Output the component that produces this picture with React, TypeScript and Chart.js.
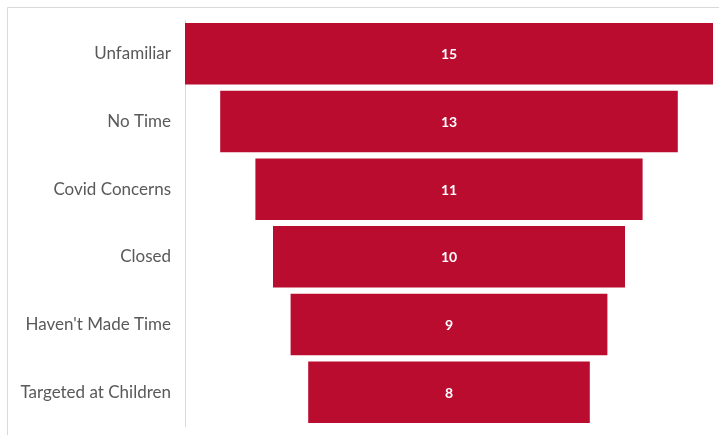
import React, { useEffect, useRef } from "react";
import { Chart, registerables } from "chart.js";

Chart.register(...registerables);

const categories = ["Unfamiliar", "No Time", "Covid Concerns", "Closed", "Haven't Made Time", "Targeted at Children"];
const values = [15, 13, 11, 10, 9, 8];

const barColor = "rgb(186,12,47)";

const framePlugin = {
  id: "frame",
  beforeDraw(chart: any) {
    const ctx = chart.ctx;
    ctx.save();
    ctx.fillStyle = "#ffffff";
    ctx.fillRect(0, 0, chart.width, chart.height);
    ctx.strokeStyle = "#d9d9d9";
    ctx.lineWidth = 1;
    ctx.beginPath();
    ctx.moveTo(7.5, chart.height);
    ctx.lineTo(7.5, 7.5);
    ctx.lineTo(chart.width, 7.5);
    ctx.stroke();
    ctx.restore();
  },
};

const labelPlugin = {
  id: "centerLabels",
  afterDatasetsDraw(chart: any) {
    const ctx = chart.ctx;
    const meta = chart.getDatasetMeta(0);
    ctx.save();
    ctx.fillStyle = "#ffffff";
    ctx.font = "bold 14px Lato";
    ctx.textAlign = "center";
    ctx.textBaseline = "middle";
    meta.data.forEach((bar: any, i: number) => {
      ctx.fillText(String(values[i]), (bar.x + bar.base) / 2, bar.y + 1);
    });
    ctx.restore();
  },
};

export default function App() {
  const ref = useRef<HTMLCanvasElement>(null);
  useEffect(() => {
    if (!ref.current) return;
    const chart = new Chart(ref.current, {
      type: "bar",
      data: {
        labels: categories,
        datasets: [
          {
            data: values.map((v) => [-v / 2, v / 2]) as any,
            backgroundColor: barColor,
            borderWidth: 0,
            barPercentage: 0.91,
            categoryPercentage: 1,
          },
        ],
      },
      options: {
        indexAxis: "y",
        animation: false,
        responsive: false,
        maintainAspectRatio: false,
        layout: { padding: { left: 0, right: 6, top: 20, bottom: 9 } },
        plugins: { legend: { display: false }, tooltip: { enabled: false } },
        scales: {
          x: { display: false, min: -7.5, max: 7.5 },
          y: {
            afterFit: (scale: any) => {
              scale.width = 185;
              scale.paddingTop = 0;
              scale.paddingBottom = 0;
            },
            grid: { display: false, drawTicks: false },
            border: { display: true, color: "#d9d9d9", width: 1 },
            ticks: {
              padding: 14,
              color: "#595959",
              font: { family: "Lato", size: 17 },
            },
          },
        },
      },
      plugins: [framePlugin, labelPlugin],
    });
    return () => chart.destroy();
  }, []);
  return (
    <div style={{ position: "absolute", left: 0, top: 0, width: 719, height: 435 }}>
      <canvas ref={ref} width={719} height={435} style={{ display: "block" }} />
    </div>
  );
}
